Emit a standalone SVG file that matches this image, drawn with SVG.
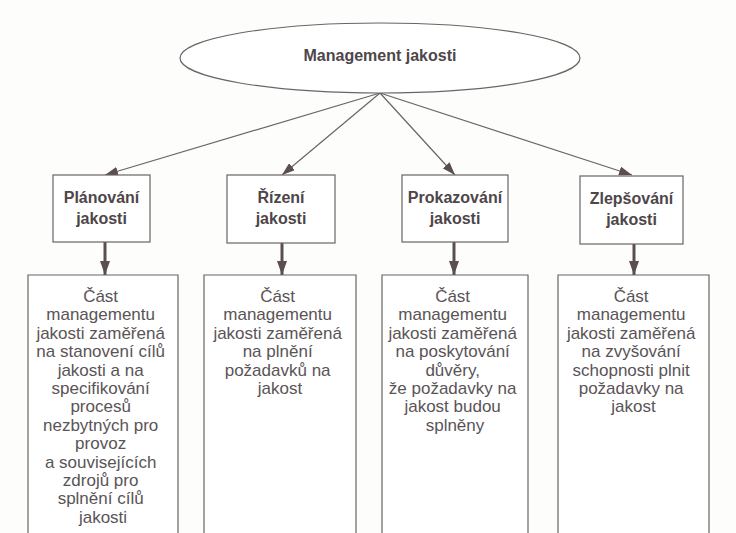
<svg xmlns="http://www.w3.org/2000/svg" width="736" height="533" viewBox="0 0 736 533">
  <style>
    .bg { fill: #fdfdfb; }
    .shape { fill: #ffffff; stroke: #6a6466; stroke-width: 1.2; }
    .title { font-family: "Liberation Sans", Arial, sans-serif; font-weight: bold; font-size: 16px; fill: #4e4649; text-anchor: middle; }
    .desc { font-family: "Liberation Sans", Arial, sans-serif; font-size: 17px; fill: #5a5457; text-anchor: middle; }
    .thin { stroke: #6a6466; stroke-width: 1.2; fill: none; }
    .thick { stroke: #5b4e53; stroke-width: 3; fill: none; }
  </style>
  <defs>
    <marker id="head" viewBox="0 0 13 9" refX="13" refY="4.5" markerWidth="13" markerHeight="9" markerUnits="userSpaceOnUse" orient="auto">
      <path d="M0,0 L13,4.5 L0,9 Z" fill="#5b4e53"/>
    </marker>
    <marker id="headBold" viewBox="0 0 14 10" refX="14" refY="5" markerWidth="14" markerHeight="10" markerUnits="userSpaceOnUse" orient="auto">
      <path d="M0,0 L14,5 L0,10 Z" fill="#5b4e53"/>
    </marker>
  </defs>
  <rect class="bg" x="0" y="0" width="736" height="533"/>

  <!-- arrows: thin from the ellipse to each activity, thick down to each description -->
  <g id="connectors">
    <line class="thin" x1="380" y1="93" x2="105" y2="175" marker-end="url(#head)"/>
    <line class="thin" x1="380" y1="93" x2="282" y2="175" marker-end="url(#head)"/>
    <line class="thin" x1="380" y1="93" x2="455" y2="175" marker-end="url(#head)"/>
    <line class="thin" x1="380" y1="93" x2="632" y2="175" marker-end="url(#head)"/>
    <line class="thick" x1="105" y1="242" x2="105" y2="275" marker-end="url(#headBold)"/>
    <line class="thick" x1="282" y1="243" x2="282" y2="275" marker-end="url(#headBold)"/>
    <line class="thick" x1="454" y1="242" x2="454" y2="275" marker-end="url(#headBold)"/>
    <line class="thick" x1="634" y1="244" x2="634" y2="275" marker-end="url(#headBold)"/>
  </g>

  <g id="management">
    <ellipse class="shape" cx="380" cy="58" rx="200" ry="35"/>
    <text class="title" x="380" y="61">Management jakosti</text>
  </g>

  <g id="planovani">
    <rect class="shape" x="53" y="175" width="97" height="67"/>
    <text class="title" x="101.5" y="203">Plánování</text>
    <text class="title" x="101.5" y="224">jakosti</text>
  </g>
  <g id="rizeni">
    <rect class="shape" x="227" y="175" width="108" height="68"/>
    <text class="title" x="281" y="203">Řízení</text>
    <text class="title" x="281" y="224">jakosti</text>
  </g>
  <g id="prokazovani">
    <rect class="shape" x="402" y="175" width="106" height="67"/>
    <text class="title" x="455" y="203">Prokazování</text>
    <text class="title" x="455" y="224">jakosti</text>
  </g>
  <g id="zlepsovani">
    <rect class="shape" x="580" y="176" width="103" height="68"/>
    <text class="title" x="631.5" y="204">Zlepšování</text>
    <text class="title" x="631.5" y="225">jakosti</text>
  </g>

  <!-- description columns run off the bottom edge -->
  <g id="planovani-popis">
    <path class="shape" d="M28,540 V275 H178 V540"/>
    <text class="desc" x="103" y="302">
      <tspan x="103" dy="0">Část</tspan>
      <tspan x="103" dy="18.4">managementu</tspan>
      <tspan x="103" dy="18.4">jakosti zaměřená</tspan>
      <tspan x="103" dy="18.4">na stanovení cílů</tspan>
      <tspan x="103" dy="18.4">jakosti a na</tspan>
      <tspan x="103" dy="18.4">specifikování</tspan>
      <tspan x="103" dy="18.4">procesů</tspan>
      <tspan x="103" dy="18.4">nezbytných pro</tspan>
      <tspan x="103" dy="18.4">provoz</tspan>
      <tspan x="103" dy="18.4">a souvisejících</tspan>
      <tspan x="103" dy="18.4">zdrojů pro</tspan>
      <tspan x="103" dy="18.4">splnění cílů</tspan>
      <tspan x="103" dy="18.4">jakosti</tspan>
    </text>
  </g>
  <g id="rizeni-popis">
    <path class="shape" d="M204,540 V275 H356 V540"/>
    <text class="desc" x="280" y="302">
      <tspan x="280" dy="0">Část</tspan>
      <tspan x="280" dy="18.4">managementu</tspan>
      <tspan x="280" dy="18.4">jakosti zaměřená</tspan>
      <tspan x="280" dy="18.4">na plnění</tspan>
      <tspan x="280" dy="18.4">požadavků na</tspan>
      <tspan x="280" dy="18.4">jakost</tspan>
    </text>
  </g>
  <g id="prokazovani-popis">
    <path class="shape" d="M382,540 V275 H528 V540"/>
    <text class="desc" x="455" y="302">
      <tspan x="455" dy="0">Část</tspan>
      <tspan x="455" dy="18.4">managementu</tspan>
      <tspan x="455" dy="18.4">jakosti zaměřená</tspan>
      <tspan x="455" dy="18.4">na poskytování</tspan>
      <tspan x="455" dy="18.4">důvěry,</tspan>
      <tspan x="455" dy="18.4">že požadavky na</tspan>
      <tspan x="455" dy="18.4">jakost budou</tspan>
      <tspan x="455" dy="18.4">splněny</tspan>
    </text>
  </g>
  <g id="zlepsovani-popis">
    <path class="shape" d="M558,540 V275 H709 V540"/>
    <text class="desc" x="633.5" y="302">
      <tspan x="633.5" dy="0">Část</tspan>
      <tspan x="633.5" dy="18.4">managementu</tspan>
      <tspan x="633.5" dy="18.4">jakosti zaměřená</tspan>
      <tspan x="633.5" dy="18.4">na zvyšování</tspan>
      <tspan x="633.5" dy="18.4">schopnosti plnit</tspan>
      <tspan x="633.5" dy="18.4">požadavky na</tspan>
      <tspan x="633.5" dy="18.4">jakost</tspan>
    </text>
  </g>
</svg>
